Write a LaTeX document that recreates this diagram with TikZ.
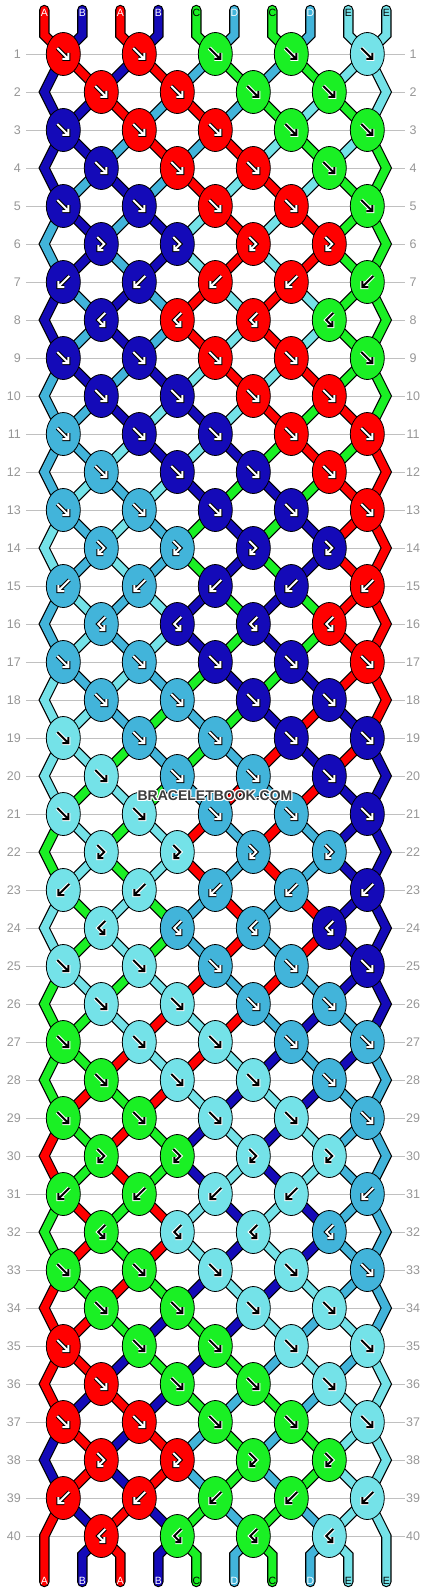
\documentclass[tikz,border=0pt]{standalone}
\usepackage{fontspec}
\setmainfont{Liberation Sans}
\usetikzlibrary{positioning,shapes.geometric}

\definecolor{colA}{RGB}{255,0,0}
\definecolor{colB}{RGB}{20,10,184}
\definecolor{colC}{RGB}{26,240,36}
\definecolor{colD}{RGB}{66,180,218}
\definecolor{colE}{RGB}{116,226,232}
\definecolor{rowgray}{RGB}{192,192,192}
\definecolor{numgray}{RGB}{150,150,150}
\definecolor{markgray}{RGB}{60,60,60}

% arrow colours for each thread colour
\def\arfillA{white}\def\arlineA{black}
\def\arfillB{white}\def\arlineB{black}
\def\arfillC{black}\def\arlineC{white}
\def\arfillD{white}\def\arlineD{black}
\def\arfillE{black}\def\arlineE{white}

% knot arrows: 0 forward, 1 forward-backward, 2 backward, 3 backward-forward
\expandafter\def\csname arpath0\endcsname{(-6,-6) -- (5,5) (5,-1) -- (5,5) -- (-1,5)}
\expandafter\def\csname arpath1\endcsname{(-4,-7) -- (3,0) -- (-3,6) (-3,1) -- (-3,6) -- (2,6)}
\expandafter\def\csname arpath2\endcsname{(6,-6) -- (-5,5) (-5,-1) -- (-5,5) -- (1,5)}
\expandafter\def\csname arpath3\endcsname{(4,-7) -- (-3,0) -- (3,6) (3,1) -- (3,6) -- (-2,6)}

\tikzset{
  thread/.style={line width=8pt, line cap=round, line join=miter},
  thread edge/.style={line width=10.4pt, line cap=round, line join=miter, black},
  knot/.style={ellipse, draw=black, line width=0.8pt, minimum width=34pt,
    minimum height=43pt, inner sep=0pt},
  rowline/.style={draw=rowgray, line width=0.9pt},
  rownum/.style={text=numgray, font=\fontsize{12.5}{14}\selectfont, inner sep=0pt},
  endlabel/.style={font=\fontsize{10.5}{12}\selectfont, inner sep=0pt},
  markfont/.style={font=\fontsize{14}{16}\bfseries\selectfont, inner sep=0pt},
}

\newcommand\setth[2]{\expandafter\xdef\csname th#1\endcsname{#2}}
\newcommand\setpt[3]{\expandafter\xdef\csname px#1\endcsname{#2}%
  \expandafter\xdef\csname py#1\endcsname{#3}}
\newcommand\resetthreads{%
  \setth{1}{A}\setth{2}{B}\setth{3}{A}\setth{4}{B}\setth{5}{C}%
  \setth{6}{D}\setth{7}{C}\setth{8}{D}\setth{9}{E}\setth{10}{E}}

% pass 1: black edges, pass 2: coloured threads, pass 3: knots
\def\passmode{1}

% one piece of thread at position #1
\newcommand\strand[2]{%
  \edef\thcol{col\csname th#1\endcsname}%
  \ifnum\passmode=1 \draw[thread edge] #2;\fi
  \ifnum\passmode=2 \draw[thread, draw=\thcol] #2;\fi
}

% knot: row, index, x, y, left position, right position
\newcommand\tieknot[6]{%
  \edef\lthr{\csname th#5\endcsname}%
  \edef\rthr{\csname th#6\endcsname}%
  \ifnum\passmode=3
    \ifnum\kt<2 \edef\kcol{\lthr}\else\edef\kcol{\rthr}\fi
    \edef\kfill{col\kcol}%
    \edef\arf{\csname arfill\kcol\endcsname}%
    \edef\arl{\csname arline\kcol\endcsname}%
    \expandafter\let\expandafter\curarrow\csname arpath\kt\endcsname
    \node[knot, fill=\kfill] (k-#1-#2) at (#3,#4) {};
    \draw[line width=4pt, color=\arl, shift={(k-#1-#2.center)}] \curarrow;
    \draw[line width=2pt, color=\arf, shift={(k-#1-#2.center)}] \curarrow;
  \fi
  \ifodd\kt\else
    \setth{#5}{\rthr}\setth{#6}{\lthr}%
  \fi
}

% all 40 rows, then the loose ends
\newcommand\braid{%
\resetthreads
\foreach \r in {1,...,40}{
  \pgfmathtruncatemacro\ry{54+38*(\r-1)}
  \pgfmathtruncatemacro\m{mod(\r,8)}
  \pgfmathtruncatemacro\kt{(\r>4)*((\m==6)+2*(\m==7)+3*(\m==0))}
  \ifodd\r
    \foreach \i in {1,...,10}{
      \pgfmathtruncatemacro\kk{(\i+1)/2}
      \pgfmathsetmacro\nx{63.3+76*(\kk-1)}
      \pgfmathsetmacro\sx{44.3+38*(\i-1)}
      \edef\ox{\csname px\i\endcsname}\edef\oy{\csname py\i\endcsname}
      \ifnum\r=1
        \strand{\i}{(\sx,10) -- (\sx,35) -- (\nx,\ry)}
      \else
        \ifnum\i=1 \else\ifnum\i=10 \else
          \strand{\i}{(\ox,\oy) -- (\nx,\ry)}
        \fi\fi
      \fi
      \setpt{\i}{\nx}{\ry}
    }
    \foreach \k in {1,...,5}{
      \pgfmathtruncatemacro\lp{2*\k-1}
      \pgfmathtruncatemacro\rp{2*\k}
      \pgfmathsetmacro\kx{63.3+76*(\k-1)}
      \tieknot{\r}{\k}{\kx}{\ry}{\lp}{\rp}
    }
  \else
    \pgfmathtruncatemacro\ny{\ry+38}
    \foreach \i in {1,...,10}{
      \edef\ox{\csname px\i\endcsname}\edef\oy{\csname py\i\endcsname}
      \ifnum\i=1
        \ifnum\r=40
          \strand{1}{(\ox,\oy) -- (44.3,\ry) -- (44.3,1582)}
        \else
          \strand{1}{(\ox,\oy) -- (44.3,\ry) -- (63.3,\ny)}
        \fi
      \else\ifnum\i=10
        \ifnum\r=40
          \strand{10}{(\ox,\oy) -- (386.3,\ry) -- (386.3,1582)}
        \else
          \strand{10}{(\ox,\oy) -- (386.3,\ry) -- (367.3,\ny)}
        \fi
      \else
        \pgfmathtruncatemacro\kk{\i/2}
        \pgfmathsetmacro\nx{101.3+76*(\kk-1)}
        \strand{\i}{(\ox,\oy) -- (\nx,\ry)}
        \setpt{\i}{\nx}{\ry}
      \fi\fi
    }
    \foreach \k in {1,...,4}{
      \pgfmathtruncatemacro\lp{2*\k}
      \pgfmathtruncatemacro\rp{2*\k+1}
      \pgfmathsetmacro\kx{101.3+76*(\k-1)}
      \tieknot{\r}{\k}{\kx}{\ry}{\lp}{\rp}
    }
  \fi
}
\foreach \i in {2,...,9}{
  \edef\ox{\csname px\i\endcsname}\edef\oy{\csname py\i\endcsname}
  \pgfmathsetmacro\sx{44.3+38*(\i-1)}
  \strand{\i}{(\ox,\oy) -- (\sx,1555) -- (\sx,1582)}
}}

\begin{document}
\begin{tikzpicture}[x=1pt, y=-1pt]
\useasboundingbox (0,0) rectangle (430,1592);

% row lines and numbers
\foreach \r in {1,...,40}{
  \pgfmathtruncatemacro\ry{54+38*(\r-1)}
  \draw[rowline] (26,\ry) -- (405,\ry);
  \node[rownum, anchor=east] (ln-\r) at (21,\ry) {\r};
  \node[rownum] (rn-\r) at (413,\ry) {\r};
}

% threads and knots, in three passes
\def\passmode{1}\braid
\def\passmode{2}\braid
\def\passmode{3}\braid

% thread letters
\foreach \t [count=\i] in {A,B,A,B,C,D,C,D,E,E}{
  \pgfmathsetmacro\sx{44.3+38*(\i-1)}
  \node[endlabel, text=\csname arfill\t\endcsname] (top-\i) at (\sx,12.5) {\t};
}
\foreach \i in {1,...,10}{
  \pgfmathsetmacro\sx{44.3+38*(\i-1)}
  \edef\t{\csname th\i\endcsname}
  \node[endlabel, text=\csname arfill\t\endcsname] (bot-\i) at (\sx,1580.5) {\t};
}

% watermark
\foreach \dx/\dy [count=\n] in {-1/-1,0/-1,1/-1,-1/0,1/0,-1/1,0/1,1/1}{
  \node[markfont, text=white] (halo-\n) at (215+\dx,796+\dy) {BRACELETBOOK.COM};
}
\node[markfont, text=markgray] (mark) at (215,796) {BRACELETBOOK.COM};
\end{tikzpicture}
\end{document}
